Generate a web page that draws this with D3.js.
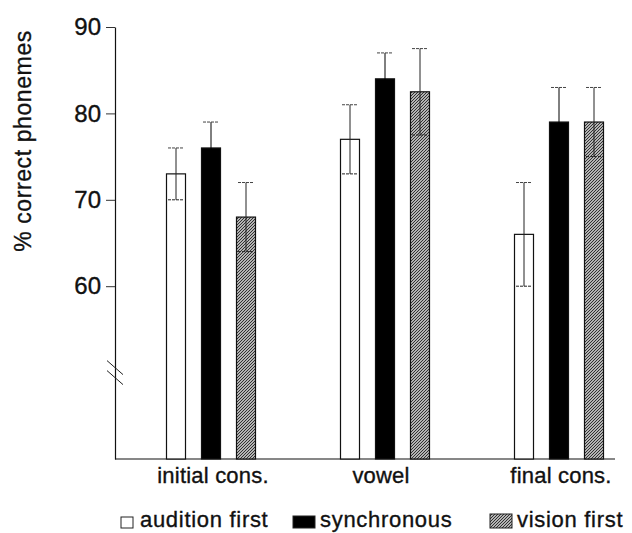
<!DOCTYPE html>
<html>
<head>
<meta charset="utf-8">
<script src="https://cdn.jsdelivr.net/npm/d3@7"></script>
<style>
  html, body { margin: 0; background: #fff; overflow: hidden; }
  svg { display: block; }
  svg text { font-family: "Liberation Sans", Arial, Helvetica, sans-serif; fill: #111; stroke: #111; stroke-width: 0.35px; }
</style>
</head>
<body>
<div id="chart"></div>
<script>
// data
var categories = ["initial cons.", "vowel", "final cons."];
var series = ["audition first", "synchronous", "vision first"];
var auditionFirst = [73, 77, 66];
var synchronous = [76, 84, 79];
var visionFirst = [68, 82.5, 79];
var auditionErr = [3, 4, 6];
var synchronousErr = [3, 3, 4];
var visionErr = [4, 5, 4];
var yTicks = [60, 70, 80, 90];
var axisBreak = 50;

var means = [auditionFirst, synchronous, visionFirst];
var errs = [auditionErr, synchronousErr, visionErr];

var width = 632, height = 533;
var barW = 19;

var svg = d3.select("#chart").append("svg")
  .attr("width", width)
  .attr("height", height);

// hatch for "vision first"
var defs = svg.append("defs");
var pat = defs.append("pattern")
  .attr("id", "hatch")
  .attr("patternUnits", "userSpaceOnUse")
  .attr("width", 3)
  .attr("height", 3);
pat.append("rect").attr("width", 3).attr("height", 3).attr("fill", "#b4b4b4");
pat.append("path")
  .attr("d", "M-1,1 l2,-2 M0,3 l3,-3 M2,4 l2,-2")
  .attr("stroke", "#222")
  .attr("stroke-width", 0.9);

var fills = ["#fff", "#000", "url(#hatch)"];

var y = d3.scaleLinear().domain([40, 90]).range([459, 27]);
var x = d3.scalePoint().domain(categories).range([211, 559]);
var xs = d3.scalePoint().domain(series).range([-35, 35]);

// y axis
var yAxis = svg.append("g")
  .attr("transform", "translate(115,0)")
  .call(d3.axisLeft(y).tickValues(yTicks).tickSize(9).tickSizeOuter(0).tickPadding(5));
yAxis.attr("font-family", null).attr("font-size", null);
yAxis.select(".domain").attr("stroke", "#111").attr("stroke-width", 1.2);
yAxis.selectAll(".tick line").attr("stroke", "#333");
yAxis.selectAll(".tick text")
  .style("font-size", "24px")
  .attr("fill", "#111");

// axis break marks
[-5, 5].forEach(function (off) {
  svg.append("line")
    .attr("x1", 107).attr("y1", y(axisBreak) + off - 7)
    .attr("x2", 123).attr("y2", y(axisBreak) + off + 7)
    .attr("stroke", "#222").attr("stroke-width", 1);
});

// baseline
svg.append("line")
  .attr("x1", 115).attr("x2", 615)
  .attr("y1", y(40)).attr("y2", y(40))
  .attr("stroke", "#111").attr("stroke-width", 1.2);

// bars
var rows = [];
categories.forEach(function (c, ci) {
  series.forEach(function (s, si) {
    rows.push({ cat: c, ser: s, si: si, v: means[si][ci], e: errs[si][ci] });
  });
});

var bars = svg.append("g").selectAll("g").data(rows).enter().append("g")
  .attr("transform", function (d) { return "translate(" + (x(d.cat) + xs(d.ser)) + ",0)"; });

bars.append("rect")
  .attr("x", -barW / 2)
  .attr("width", barW)
  .attr("y", function (d) { return y(d.v); })
  .attr("height", function (d) { return y(40) - y(d.v); })
  .attr("fill", function (d) { return fills[d.si]; })
  .attr("stroke", "#111")
  .attr("stroke-width", 1.2);

// error bars
var errColor = function (d) { return d.si === 1 ? "#000" : "#222"; };
bars.append("line")
  .attr("x1", 0).attr("x2", 0)
  .attr("y1", function (d) { return y(d.v + d.e); })
  .attr("y2", function (d) { return y(d.v - d.e); })
  .attr("stroke", errColor).attr("stroke-width", 1);
bars.append("line")
  .attr("x1", -8).attr("x2", 8)
  .attr("y1", function (d) { return y(d.v + d.e); })
  .attr("y2", function (d) { return y(d.v + d.e); })
  .attr("stroke", "#444").attr("stroke-width", 1)
  .attr("stroke-dasharray", "3,1");
bars.append("line")
  .attr("x1", -8).attr("x2", 8)
  .attr("y1", function (d) { return y(d.v - d.e); })
  .attr("y2", function (d) { return y(d.v - d.e); })
  .attr("stroke", errColor).attr("stroke-width", 1)
  .attr("stroke-dasharray", function (d) { return d.si === 1 ? null : "3,1"; });

// category labels
svg.append("g").selectAll("text").data(categories).enter().append("text")
  .attr("x", function (d, i) { return x(d) + (i === 1 ? -4 : 2); })
  .attr("y", 483)
  .attr("text-anchor", "middle")
  .attr("font-size", 22)
  .attr("letter-spacing", 0.2)
  .text(function (d) { return d; });

// y label
svg.append("text")
  .attr("transform", "translate(31,141) rotate(-90)")
  .attr("text-anchor", "middle")
  .attr("font-size", 23)
  .attr("letter-spacing", 0.6)
  .text("% correct phonemes");

// legend
var legendX = [121, 293, 490];
var swW = [12, 22, 22], swH = [11, 12, 14];
var lg = svg.append("g").selectAll("g").data(series).enter().append("g")
  .attr("transform", function (d, i) { return "translate(" + legendX[i] + ",0)"; });
lg.append("rect")
  .attr("y", function (d, i) { return 528 - swH[i]; })
  .attr("width", function (d, i) { return swW[i]; })
  .attr("height", function (d, i) { return swH[i]; })
  .attr("fill", function (d, i) { return fills[i]; })
  .attr("stroke", "#222")
  .attr("stroke-width", 1);
lg.append("text")
  .attr("x", function (d, i) { return swW[i] + (i === 0 ? 7 : 5); })
  .attr("y", 527)
  .attr("font-size", 22)
  .attr("letter-spacing", 0.7)
  .text(function (d) { return d; });
</script>
</body>
</html>
